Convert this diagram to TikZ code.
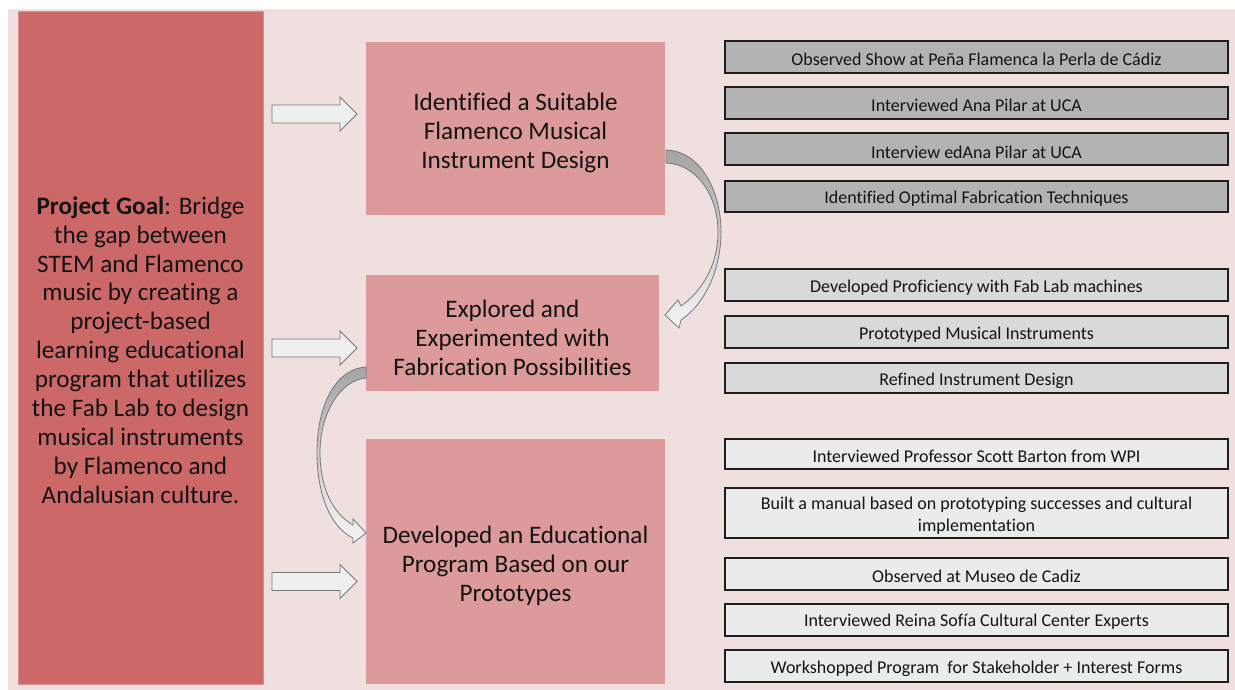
\documentclass[tikz,border=0pt]{standalone}
\usepackage{fontspec}
\setmainfont{Carlito}[Ligatures=NoCommon]
\definecolor{bgpink}{HTML}{EFDFDF}
\definecolor{goalred}{HTML}{CC6868}
\definecolor{goaledge}{HTML}{D88E8E}
\definecolor{midpink}{HTML}{DC9A9A}
\definecolor{grayA}{HTML}{B3B3B3}
\definecolor{grayB}{HTML}{D9D9D9}
\definecolor{grayC}{HTML}{EBEBEB}
\definecolor{boxline}{HTML}{1E1E1E}
\definecolor{arrowfill}{HTML}{EFEFEF}
\definecolor{arrowline}{HTML}{777777}
\definecolor{txt}{HTML}{141414}
\begin{document}
\begin{tikzpicture}[x=1pt,y=-1pt,
  goalbox/.style={fill=goalred,draw=goaledge,line width=0.8pt,inner sep=0pt},
  goaltext/.style={inner sep=0pt,text=txt,align=center,font=\fontsize{25.2}{28.9}\selectfont},
  midbox/.style={fill=midpink,inner sep=0pt},
  midtext/.style={inner sep=0pt,text=txt,align=center,font=\fontsize{25.2}{29}\selectfont},
  factbox/.style={draw=boxline,line width=2pt,inner sep=0pt,minimum width=503pt},
  facttext/.style={inner sep=0pt,text=txt,align=center,font=\fontsize{18}{22}\selectfont},
  blockarrow/.style={fill=arrowfill,draw=arrowline,line width=0.9pt,line join=miter},
  curvedarrow/.style={draw=arrowline,line width=0.8pt,top color=grayA!92!black,bottom color=arrowfill!60!white}
]
\useasboundingbox (0,0) rectangle (1235,690);
\fill[bgpink] (8,9) rectangle (1235,690);

% left goal box
\node[goalbox,minimum width=245pt,minimum height=673pt] (goal) at (140.5,347.5) {};
\node[goaltext] (goalT) at ([yshift=-2.5pt]goal.center)
  {\textbf{Project Goal}: Bridge\\ the gap between\\ STEM and Flamenco\\ music by creating a\\
   project-based\\ learning educational\\ program that utilizes\\ the Fab Lab to design\\
   musical instruments\\ by Flamenco and\\ Andalusian culture.};

% middle boxes
\node[midbox,minimum width=299pt,minimum height=173pt] (m1) at (515.5,128.5) {};
\node[midbox,minimum width=293pt,minimum height=116pt] (m2) at (512.5,333) {};
\node[midbox,minimum width=299pt,minimum height=245pt] (m3) at (515.5,561.5) {};
\node[midtext] (m1T) at ([yshift=-4pt]m1.center) {Identified a Suitable\\ Flamenco Musical\\ Instrument Design};
\node[midtext] (m2T) at ([yshift=-4.5pt]m2.center) {Explored and\\ Experimented with\\ Fabrication Possibilities};
\node[midtext] (m3T) at ([yshift=-4.5pt]m3.center) {Developed an Educational\\ Program Based on our\\ Prototypes};

% right fact boxes
\node[factbox,fill=grayA,minimum height=32pt] (f1) at (976.5,57) {};
\node[factbox,fill=grayA,minimum height=32pt] (f2) at (976.5,103) {};
\node[factbox,fill=grayA,minimum height=32pt] (f3) at (976.5,149.5) {};
\node[factbox,fill=grayA,minimum height=31pt] (f4) at (976.5,196.5) {};
\node[factbox,fill=grayB,minimum height=32pt] (f5) at (976.5,285) {};
\node[factbox,fill=grayB,minimum height=32pt] (f6) at (976.5,332) {};
\node[factbox,fill=grayB,minimum height=30pt] (f7) at (976.5,377.5) {};
\node[factbox,fill=grayC,minimum height=30pt] (f8) at (976.5,453.5) {};
\node[factbox,fill=grayC,minimum height=50pt] (f9) at (976.5,513) {};
\node[factbox,fill=grayC,minimum height=32pt] (f10) at (976.5,574) {};
\node[factbox,fill=grayC,minimum height=32pt] (f11) at (976.5,619.5) {};
\node[factbox,fill=grayC,minimum height=32pt] (f12) at (976.5,665.5) {};

\node[facttext] (f1T) at ([yshift=-2pt]f1.center) {Observed Show at Peña Flamenca la Perla de Cádiz};
\node[facttext] (f2T) at ([yshift=-2.5pt]f2.center) {Interviewed Ana Pilar at UCA};
\node[facttext] (f3T) at ([yshift=-2.5pt]f3.center) {Interview edAna Pilar at UCA};
\node[facttext] (f4T) at ([yshift=-2.5pt]f4.center) {Identified Optimal Fabrication Techniques};
\node[facttext] (f5T) at ([yshift=-3pt]f5.center) {Developed Proficiency with Fab Lab machines};
\node[facttext] (f6T) at ([yshift=-2.5pt]f6.center) {Prototyped Musical Instruments};
\node[facttext] (f7T) at ([yshift=-3pt]f7.center) {Refined Instrument Design};
\node[facttext] (f8T) at ([yshift=-2.5pt]f8.center) {Interviewed Professor Scott Barton from WPI};
\node[facttext] (f9T) at ([yshift=-2.5pt]f9.center) {Built a manual based on prototyping successes and cultural\\ implementation};
\node[facttext] (f10T) at ([yshift=-2.5pt]f10.center) {Observed at Museo de Cadiz};
\node[facttext] (f11T) at ([yshift=-2.5pt]f11.center) {Interviewed Reina Sofía Cultural Center Experts};
\node[facttext] (f12T) at ([yshift=-3pt]f12.center) {Workshopped Program~ for Stakeholder + Interest Forms};

% block arrows from goal to middle boxes
\foreach \cy in {114,348,581.5}{
  \path[blockarrow] (272,\cy-9) -- (340,\cy-9) -- (340,\cy-17) -- (357,\cy) -- (340,\cy+17)
     -- (340,\cy+9) -- (272,\cy+9) -- cycle;
}

% curved arrow m1 -> m2
\path[curvedarrow] (666,150) .. controls (700,151) and (721,190) .. (721,232)
   .. controls (721,268) and (706,303) .. (681,320) -- (679,328) -- (665,315) -- (678,300) -- (681,306)
   .. controls (701,292) and (718,266) .. (718,232)
   .. controls (718,196) and (697,164) .. (666,163) -- cycle;

% curved arrow m2 -> m3
\path[curvedarrow] (366,367) .. controls (334,369) and (317,408) .. (317,452)
   .. controls (317,494) and (330,527) .. (353,538) -- (353,543) -- (366,533) -- (353,519) -- (353,525)
   .. controls (334,514) and (320,490) .. (320,452)
   .. controls (320,414) and (340,380) .. (366,378) -- cycle;
\end{tikzpicture}
\end{document}
